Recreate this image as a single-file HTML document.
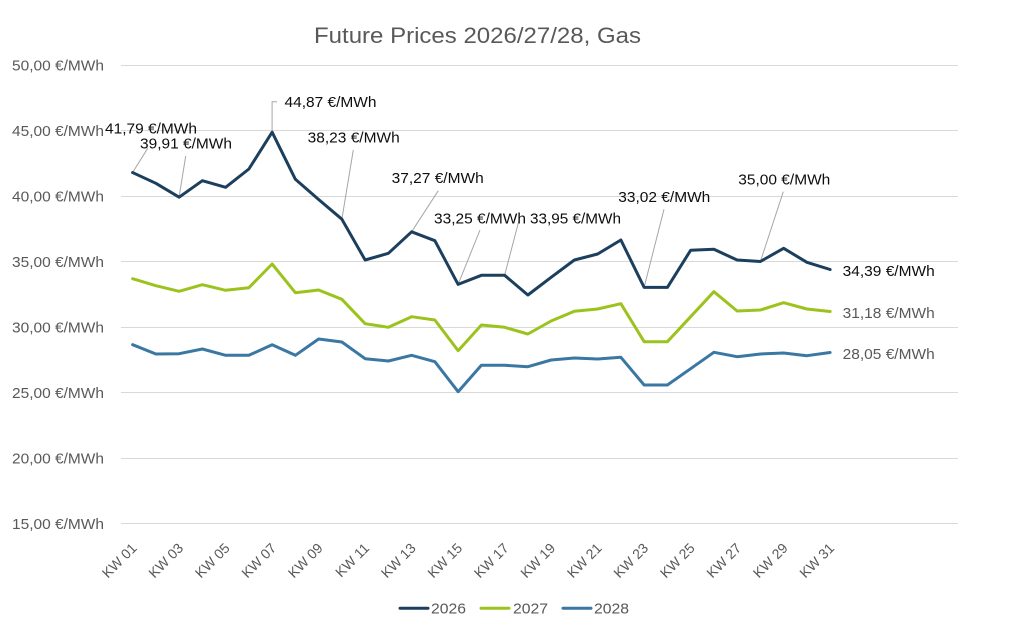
<!DOCTYPE html>
<html>
<head>
<meta charset="utf-8">
<style>
html,body{margin:0;padding:0;background:#fff;}
svg{display:block;}
text{font-family:"Liberation Sans",Arial,sans-serif;}
</style>
</head>
<body>
<svg width="1024" height="632" viewBox="0 0 1024 632" xmlns="http://www.w3.org/2000/svg">
<rect width="1024" height="632" fill="#fff"/>
<!-- title -->
<text x="314" y="43" font-size="22" fill="#595959" textLength="327" lengthAdjust="spacingAndGlyphs">Future Prices 2026/27/28, Gas</text>
<!-- gridlines -->
<g stroke="#d9d9d9" stroke-width="1">
<line x1="121" y1="65.5" x2="958" y2="65.5"/>
<line x1="121" y1="130.5" x2="958" y2="130.5"/>
<line x1="121" y1="196.5" x2="958" y2="196.5"/>
<line x1="121" y1="261.5" x2="958" y2="261.5"/>
<line x1="121" y1="327.5" x2="958" y2="327.5"/>
<line x1="121" y1="392.5" x2="958" y2="392.5"/>
<line x1="121" y1="458.5" x2="958" y2="458.5"/>
<line x1="121" y1="523.5" x2="958" y2="523.5"/>
</g>
<!-- y labels -->
<g font-size="14.5" fill="#595959" text-anchor="end">
<text x="104" y="70.5" textLength="92" lengthAdjust="spacingAndGlyphs">50,00 €/MWh</text>
<text x="104" y="136" textLength="92" lengthAdjust="spacingAndGlyphs">45,00 €/MWh</text>
<text x="104" y="201.5" textLength="92" lengthAdjust="spacingAndGlyphs">40,00 €/MWh</text>
<text x="104" y="267" textLength="92" lengthAdjust="spacingAndGlyphs">35,00 €/MWh</text>
<text x="104" y="332.5" textLength="92" lengthAdjust="spacingAndGlyphs">30,00 €/MWh</text>
<text x="104" y="398" textLength="92" lengthAdjust="spacingAndGlyphs">25,00 €/MWh</text>
<text x="104" y="463.5" textLength="92" lengthAdjust="spacingAndGlyphs">20,00 €/MWh</text>
<text x="104" y="529" textLength="92" lengthAdjust="spacingAndGlyphs">15,00 €/MWh</text>
</g>
<!-- x labels -->
<g font-size="14" fill="#595959" text-anchor="end">
<text transform="translate(137.6,549) rotate(-45)">KW 01</text>
<text transform="translate(184.1,549) rotate(-45)">KW 03</text>
<text transform="translate(230.6,549) rotate(-45)">KW 05</text>
<text transform="translate(277.1,549) rotate(-45)">KW 07</text>
<text transform="translate(323.6,549) rotate(-45)">KW 09</text>
<text transform="translate(370.1,549) rotate(-45)">KW 11</text>
<text transform="translate(416.6,549) rotate(-45)">KW 13</text>
<text transform="translate(463.1,549) rotate(-45)">KW 15</text>
<text transform="translate(509.6,549) rotate(-45)">KW 17</text>
<text transform="translate(556.1,549) rotate(-45)">KW 19</text>
<text transform="translate(602.6,549) rotate(-45)">KW 21</text>
<text transform="translate(649.1,549) rotate(-45)">KW 23</text>
<text transform="translate(695.6,549) rotate(-45)">KW 25</text>
<text transform="translate(742.1,549) rotate(-45)">KW 27</text>
<text transform="translate(788.6,549) rotate(-45)">KW 29</text>
<text transform="translate(835.1,549) rotate(-45)">KW 31</text>
</g>
<!-- leader lines -->
<g stroke="#a6a6a6" stroke-width="1" fill="none">
<polyline points="132.6,172.5 147.7,148.3"/>
<polyline points="179.1,197 185.7,156"/>
<polyline points="272.1,132 272.1,101.7 277,101.7"/>
<polyline points="341.9,219 353.3,150"/>
<polyline points="411.6,231.8 438.3,190.7"/>
<polyline points="458.1,284.4 480,230"/>
<polyline points="504.6,275.3 519.3,219.3"/>
<polyline points="644.1,287.4 664,209.3"/>
<polyline points="760.4,261.5 783.3,191.7"/>
</g>
<!-- series -->
<g fill="none" stroke-width="3" stroke-linejoin="round" stroke-linecap="round">
<polyline stroke="#3a77a3" points="132.63,344.7 155.88,354 179.13,353.7 202.38,349 225.63,355.3 248.88,355.3 272.13,344.7 295.38,355.3 318.63,339 341.88,342 365.13,358.7 388.38,361 411.63,355.3 434.88,361.7 458.13,391.7 481.38,365.3 504.63,365.3 527.88,366.7 551.13,360 574.38,358 597.63,359 620.88,357.3 644.13,385 667.38,385 690.63,368.7 713.88,352.3 737.13,356.7 760.38,354 783.63,353 806.88,355.7 830.13,352.5"/>
<polyline stroke="#9cc31d" points="132.63,278.7 155.88,285.7 179.13,291.3 202.38,284.7 225.63,290.3 248.88,287.7 272.13,264 295.38,292.7 318.63,290 341.88,299.3 365.13,323.7 388.38,327.3 411.63,316.7 434.88,320 458.13,350.7 481.38,325 504.63,327.3 527.88,334 551.13,321 574.38,311.3 597.63,309 620.88,303.7 644.13,341.7 667.38,341.7 690.63,316.7 713.88,291.7 737.13,311 760.38,310 783.63,302.7 806.88,309 830.13,311.5"/>
<polyline stroke="#1c3f5e" points="132.63,172.55 155.88,183.3 179.13,197.18 202.38,180.7 225.63,187.3 248.88,169 272.13,132.2 295.38,179.3 318.63,199.5 341.88,219.2 365.13,260 388.38,253.3 411.63,231.8 434.88,240.7 458.13,284.4 481.38,275.3 504.63,275.3 527.88,295 551.13,277.3 574.38,260 597.63,254 620.88,240 644.13,287.4 667.38,287.4 690.63,250.3 713.88,249.3 737.13,260 760.38,261.5 783.63,248.3 806.88,262.3 830.13,269.5"/>
</g>
<!-- data labels -->
<g font-size="14.5" fill="#0d0d0d">
<text x="105" y="133.5" textLength="92" lengthAdjust="spacingAndGlyphs">41,79 €/MWh</text>
<text x="140" y="148.5" textLength="92" lengthAdjust="spacingAndGlyphs">39,91 €/MWh</text>
<text x="284.5" y="107" textLength="92" lengthAdjust="spacingAndGlyphs">44,87 €/MWh</text>
<text x="307.7" y="142.5" textLength="92" lengthAdjust="spacingAndGlyphs">38,23 €/MWh</text>
<text x="391.7" y="183" textLength="92" lengthAdjust="spacingAndGlyphs">37,27 €/MWh</text>
<text x="434" y="223.5" textLength="92" lengthAdjust="spacingAndGlyphs">33,25 €/MWh</text>
<text x="530" y="223.5" textLength="91" lengthAdjust="spacingAndGlyphs">33,95 €/MWh</text>
<text x="618.3" y="202" textLength="92" lengthAdjust="spacingAndGlyphs">33,02 €/MWh</text>
<text x="738.3" y="184.5" textLength="92" lengthAdjust="spacingAndGlyphs">35,00 €/MWh</text>
<text x="842.7" y="276" textLength="92" lengthAdjust="spacingAndGlyphs">34,39 €/MWh</text>
</g>
<g font-size="14.5" fill="#595959">
<text x="842.7" y="318" textLength="92" lengthAdjust="spacingAndGlyphs">31,18 €/MWh</text>
<text x="842.7" y="359" textLength="92" lengthAdjust="spacingAndGlyphs">28,05 €/MWh</text>
</g>
<!-- legend -->
<g stroke-width="3" stroke-linecap="round">
<line x1="400" y1="608.3" x2="428" y2="608.3" stroke="#1c3f5e"/>
<line x1="481" y1="608.3" x2="509" y2="608.3" stroke="#9cc31d"/>
<line x1="563" y1="608.3" x2="591" y2="608.3" stroke="#3a77a3"/>
</g>
<g font-size="15" fill="#595959">
<text x="431" y="613.5" textLength="35" lengthAdjust="spacingAndGlyphs">2026</text>
<text x="513" y="613.5" textLength="35" lengthAdjust="spacingAndGlyphs">2027</text>
<text x="594" y="613.5" textLength="35" lengthAdjust="spacingAndGlyphs">2028</text>
</g>
</svg>
</body>
</html>
